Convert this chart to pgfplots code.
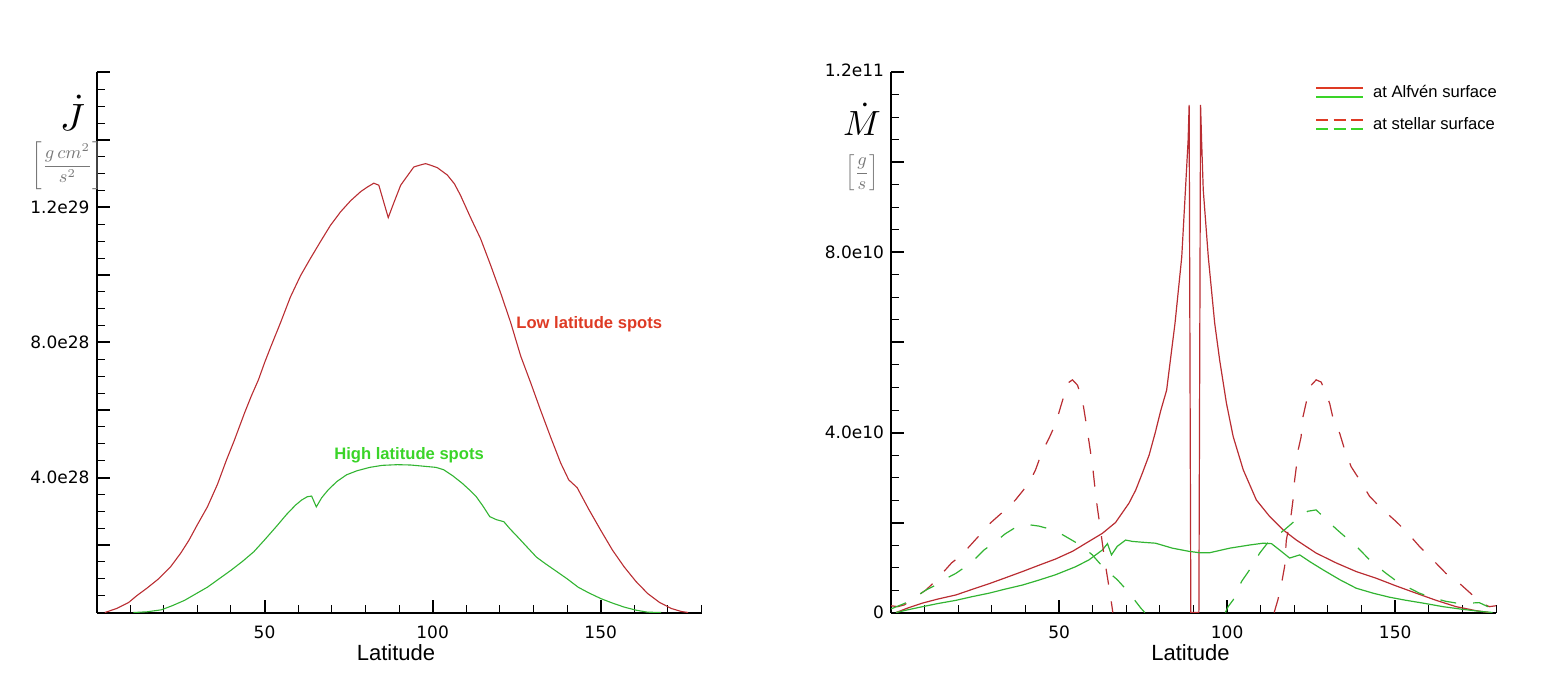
\documentclass[border=0pt]{standalone}
\usepackage{fontspec}
\usepackage{graphicx}
\usepackage{pgfplots}
\pgfplotsset{compat=1.18}
\newfontfamily\dejavu{DejaVu Sans}
\newfontfamily\lib{Liberation Sans}
\definecolor{cred}{RGB}{185,45,50}
\definecolor{cgreen}{RGB}{50,180,50}
\definecolor{lred}{RGB}{222,58,36}
\definecolor{lgreen}{RGB}{58,212,40}
\definecolor{ugrey}{RGB}{120,120,120}
\pgfplotsset{
 panel/.style={
  scale only axis, width=302.5pt, height=270pt,
  axis lines*=left, axis line style={line width=1pt, black, -},
  xmin=0, xmax=180,
  xtick={50,100,150}, xticklabels={50,100,150},
  minor xtick={10,20,...,180},
  tick align=inside,
  major tick length=6.5pt, minor tick length=4pt,
  major tick style={line width=1pt, black},
  minor tick style={line width=0.5pt, black},
  ticklabel style={font=\dejavu\fontsize{8.5}{10}\selectfont},
  xticklabel style={yshift=-3pt},
  xlabel={Latitude},
  xlabel style={font=\lib\fontsize{11}{13}\selectfont, at={(axis description cs:0.495,0)}, anchor=north, yshift=-12.5pt},
  minor y tick num=3,
 }}
\begin{document}
\begin{tikzpicture}
\path[use as bounding box] (0pt,0pt) rectangle (770.5pt,337.5pt);
% ---------------- left panel ----------------
\begin{axis}[panel, at={(48.25pt,31.25pt)}, anchor=south west,
  ymin=0, ymax=16, ytick={0,2,...,16},
  yticklabels={{},{},4.0e28,{},8.0e28,{},1.2e29,{},{}}]
\addplot[cred, line width=0.55pt] coordinates {
(2.5,0) (6,0.12) (9.6,0.3) (12,0.5) (15,0.72) (18.5,1.0) (22,1.35) (25,1.75) (27.5,2.14) (30,2.6) (33,3.13) (36,3.8) (38.6,4.5) (41,5.1) (44,5.9) (46,6.4) (48.2,6.9) (50,7.4) (51.8,7.86) (54.8,8.6) (57.7,9.35) (60.7,9.98) (63.7,10.5) (66.7,11.0) (69.6,11.47) (72.6,11.87) (75.6,12.2) (78.6,12.47) (80.5,12.6) (82.5,12.72) (84,12.66) (86.8,11.7) (88.5,12.15) (90.5,12.66) (91.5,12.8) (94.4,13.2) (96,13.25) (97.9,13.3) (99.5,13.25) (101.4,13.18) (104.4,12.96) (106.5,12.7) (108.3,12.36) (111.3,11.7) (114.3,11.07) (117.3,10.28) (120.2,9.48) (123.2,8.6) (126.2,7.6) (129.2,6.8) (132.1,6.0) (135.1,5.2) (138.1,4.43) (140.5,3.93) (143,3.7) (146.5,3.05) (150,2.44) (153.5,1.85) (157,1.35) (160.5,0.92) (164,0.56) (167.5,0.3) (171,0.12) (174,0.03) (176,0)
};
\addplot[cgreen, line width=0.55pt] coordinates {
(11,0) (15,0.02) (19.3,0.08) (22.5,0.2) (26.2,0.36) (29.5,0.55) (33,0.75) (36.5,1.0) (40,1.25) (43.5,1.52) (46.8,1.8) (50,2.15) (53.7,2.57) (56.5,2.9) (59.2,3.18) (61,3.33) (62.7,3.43) (64,3.45) (65.4,3.13) (67,3.4) (68.9,3.63) (71.5,3.88) (74.4,4.08) (77.5,4.2) (81.3,4.3) (85,4.36) (89.5,4.38) (93.5,4.37) (97.8,4.33) (101,4.3) (103.3,4.23) (106,4.05) (108.8,3.83) (111,3.63) (113,3.43) (115,3.15) (117,2.84) (119,2.75) (121.2,2.69) (123,2.48) (125.3,2.24) (128,1.95) (130.9,1.64) (133.5,1.45) (136.4,1.25) (140,1.0) (143.3,0.75) (146.5,0.58) (150.1,0.41) (153.5,0.28) (157,0.16) (160.5,0.07) (163.9,0.01) (168,0)
};
\node[font=\lib\bfseries\fontsize{8.3}{10}\selectfont, text=lred] at (axis cs:146.6,8.54) {Low latitude spots};
\node[font=\lib\bfseries\fontsize{8.3}{10}\selectfont, text=lgreen] at (axis cs:93,4.67) {High latitude spots};
\end{axis}
% ---------------- right panel ----------------
\begin{axis}[panel, at={(445.5pt,31.25pt)}, anchor=south west,
  ymin=0, ymax=12, ytick={0,2,...,12},
  yticklabels={0,{},4.0e10,{},8.0e10,{},\raisebox{2.5pt}{1.2e11}},
  legend style={draw=none, fill=none, at={(axis description cs:0.70,0.985)}, anchor=north west,
    font=\lib\fontsize{8.3}{10}\selectfont, row sep=4.5pt, inner sep=0pt,
    nodes={inner xsep=4.5pt}},
  legend cell align=left]
\addplot[cred, line width=0.6pt,
  legend image code/.code={\draw[lred,line width=1.1pt] (0pt,2.2pt)--(23.5pt,2.2pt); \draw[lgreen,line width=1.1pt] (0pt,-2.3pt)--(23.5pt,-2.3pt);}]
 coordinates {
(1.5,0) (5,0.1) (9.4,0.21) (14,0.3) (19.3,0.39) (24,0.51) (29.2,0.64) (34,0.77) (39.1,0.91) (44,1.05) (49,1.19) (54,1.36) (58.9,1.58) (62.9,1.76) (66.8,2.0) (70.8,2.43) (72.8,2.72) (74.8,3.1) (76.8,3.5) (78.7,4.02) (80.3,4.5) (82,4.94) (84.5,6.43) (86.5,7.9) (87.6,9.39) (88.4,10.5) (88.7,11.28) (89.2,0) (91.6,0) (92.1,11.28) (92.4,10.5) (92.9,9.39) (94.4,7.9) (96.3,6.43) (97.8,5.6) (99.8,4.65) (101.8,3.91) (104.8,3.17) (108.7,2.5) (112.7,2.13) (116.6,1.84) (120.6,1.61) (126.5,1.32) (132.5,1.1) (138.4,0.91) (144.4,0.76) (150.3,0.59) (156.2,0.43) (162.2,0.27) (168.1,0.13) (174.1,0.04) (178,0)
};
\addlegendentry{at Alfvén surface}
\addplot[cgreen, line width=0.6pt, forget plot] coordinates {
(1.5,0) (5,0.06) (9.4,0.13) (14,0.2) (19.3,0.27) (24,0.35) (29.2,0.43) (34,0.52) (39.1,0.61) (44,0.72) (49,0.84) (55,1.02) (58.9,1.17) (62.9,1.39) (64.4,1.53) (65.6,1.28) (67.3,1.47) (69.8,1.61) (71.8,1.58) (75,1.56) (78.7,1.54) (83.7,1.43) (88.6,1.36) (91.6,1.33) (94.9,1.33) (100.8,1.43) (106.7,1.5) (110.7,1.54) (113.2,1.53) (115.6,1.39) (118.6,1.21) (121.6,1.28) (124.6,1.13) (128.5,0.95) (133.5,0.73) (138.4,0.54) (143.4,0.43) (148.3,0.34) (153.3,0.27) (158.2,0.21) (164.2,0.13) (170.1,0.07) (176,0.02) (179,0)
};
\addplot[cred, line width=0.6pt, dash pattern=on 8pt off 8.5pt,
  legend image code/.code={\draw[lred,line width=1.1pt,dash pattern=on 6pt off 2.75pt] (0pt,2.2pt)--(23.5pt,2.2pt); \draw[lgreen,line width=1.1pt,dash pattern=on 6pt off 2.75pt] (0pt,-2.3pt)--(23.5pt,-2.3pt);}]
 coordinates {
(0,0.15) (2,0.13) (4,0.17) (5.5,0.25) (8,0.38) (10.4,0.5) (12.5,0.65) (14.4,0.8) (18,1.1) (20,1.22) (22,1.36) (26,1.69) (29,1.95) (32,2.15) (34,2.28) (37,2.5) (41,2.87) (43,3.17) (45,3.58) (47,3.87) (49,4.2) (50.5,4.58) (52,4.95) (53,5.12) (54,5.17) (55.5,5.05) (57,4.7) (58.5,4.0) (60,3.24) (61,2.54) (62.4,1.8) (63.7,1.1) (65.3,0.36) (66,0)
};
\addlegendentry{at stellar surface}
\addplot[cred, line width=0.6pt, dash pattern=on 8pt off 8.5pt, forget plot] coordinates {
(114,0) (115.1,0.28) (116.4,0.73) (117.1,1.02) (117.6,1.6) (119.1,2.2) (119.6,2.5) (120.1,2.95) (120.6,3.24) (121.1,3.6) (122,3.9) (122.6,4.36) (123.6,4.69) (125,5.05) (126.5,5.17) (128,5.12) (130.5,4.65) (131.5,4.32) (133.5,3.98) (135,3.61) (136.9,3.24) (139.4,2.95) (142.4,2.58) (145.8,2.32) (150.3,2.02) (153.8,1.76) (157.2,1.47) (161.2,1.17) (165.1,0.87) (169.1,0.65) (174,0.32) (176,0.2) (178,0.13) (180,0.15)
};
\addplot[cgreen, line width=0.6pt, dash pattern=on 8pt off 8.5pt, forget plot] coordinates {
(0,0.08) (4,0.2) (7,0.33) (10.4,0.5) (14.4,0.65) (17,0.78) (19.3,0.87) (23.8,1.1) (27.7,1.39) (31.7,1.61) (34,1.75) (36.6,1.87) (39,1.93) (41.1,1.95) (44,1.92) (46.5,1.87) (51,1.73) (54,1.6) (56.9,1.47) (59.9,1.28) (62,1.1) (63.9,0.95) (67.3,0.73) (69.5,0.55) (71.3,0.39) (74.3,0.1) (75.5,0)
};
\addplot[cgreen, line width=0.6pt, dash pattern=on 8pt off 8.5pt, forget plot] coordinates {
(99.5,0) (100.3,0.13) (101.8,0.28) (104.3,0.69) (106.7,0.95) (109.7,1.32) (112.7,1.61) (115,1.72) (117.1,1.84) (121.6,2.13) (124,2.25) (126.5,2.28) (130.5,1.99) (133,1.82) (135,1.69) (139,1.43) (142.9,1.13) (147.3,0.87) (150,0.72) (153.3,0.58) (157.2,0.43) (161,0.33) (165,0.25) (169,0.2) (172.6,0.21) (175,0.22) (177,0.15) (180,0.05)
};
\end{axis}
% ---------------- axis titles ----------------
\node[inner sep=0pt] at (36.3pt,281pt) {\scalebox{1.9}{$\dot J$}};
\node[text=ugrey, inner sep=0pt] at (33.7pt,254.5pt) {\fontsize{8.7}{10}\selectfont$\displaystyle\left[\frac{g\,cm^2}{s^2}\right]$};
\node[inner sep=0pt] at (431pt,278pt) {\scalebox{1.75}{$\dot M$}};
\node[text=ugrey, inner sep=0pt] at (431pt,251pt) {\fontsize{8.7}{10}\selectfont$\displaystyle\left[\frac{g}{s}\right]$};
\end{tikzpicture}
\end{document}
